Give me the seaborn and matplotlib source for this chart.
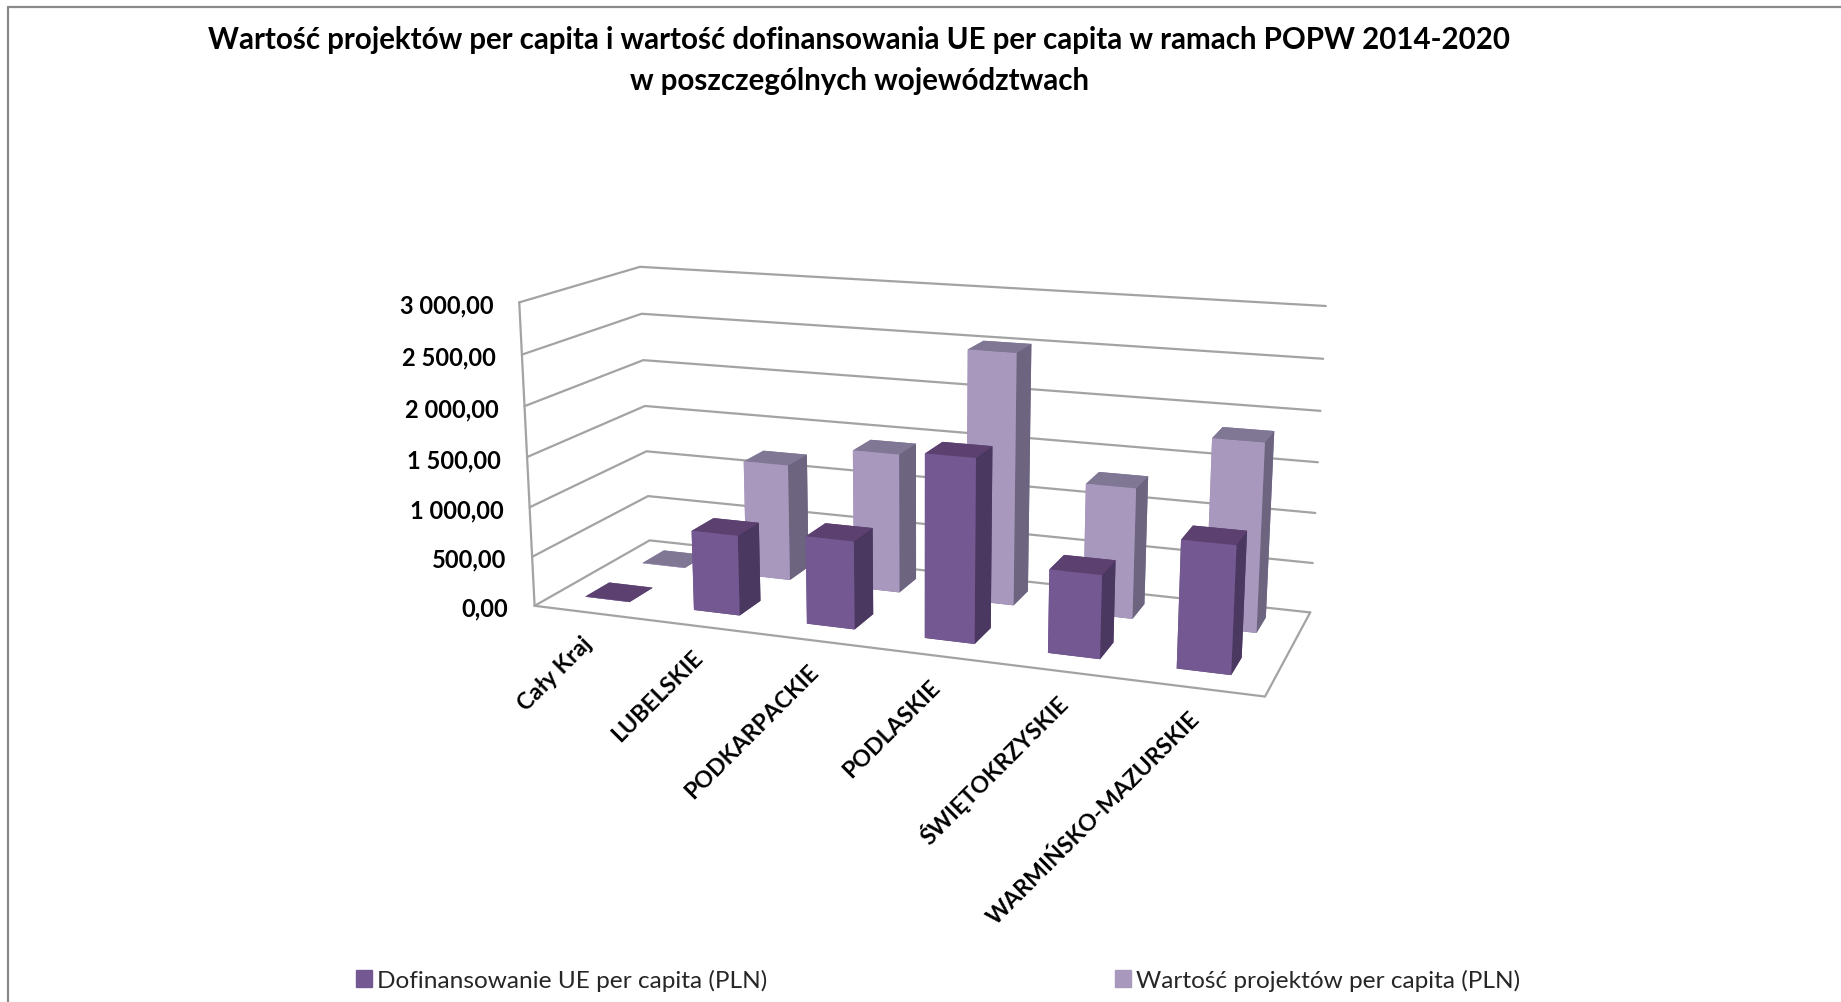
import numpy as np, matplotlib
matplotlib.use('Agg')
import matplotlib.pyplot as plt
from matplotlib.patches import Patch
from matplotlib.lines import Line2D
from mpl_toolkits.mplot3d import proj3d
import seaborn as sns

categories = ['Cały Kraj', 'LUBELSKIE', 'PODKARPACKIE', 'PODLASKIE', 'ŚWIĘTOKRZYSKIE', 'WARMIŃSKO-MAZURSKIE']
dofinansowanie = [5, 800, 865, 1770, 795, 1195]
wartosc = [5, 1205, 1420, 2515, 1295, 1840]
z_ticks = [0, 500, 1000, 1500, 2000, 2500, 3000]
z_labels = ['0,00', '500,00', '1 000,00', '1 500,00', '2 000,00', '2 500,00', '3 000,00']
series_names = ['Dofinansowanie UE per capita (PLN)', 'Wartość projektów per capita (PLN)']
title_lines = 'Wartość projektów per capita i wartość dofinansowania UE per capita w ramach POPW 2014-2020\nw poszczególnych województwach'

sns.set_theme(style='white')
plt.rcParams['font.family'] = ['Lato', 'DejaVu Sans']
W, H = 1841, 1003
GRID = '#a3a3a3'
dark = ['#5c4170', '#5c4170', '#735891', '#5c4170', '#735891', '#4a3860']
light = ['#7f7794', '#7f7794', '#a898bd', '#7f7794', '#a898bd', '#6d6480']

fig = plt.figure(figsize=(W/100, H/100), dpi=100, facecolor='white')
S, TX, TY = 4466.8, 920.41, 460.635
L = S*0.185
ax = fig.add_axes([(TX-0.095*S)/W, 1-(TY+0.095*S)/H, L/W, L/H], projection='3d')
ax.set_xlim(0, 6, view_margin=0); ax.set_ylim(0, 1, view_margin=0); ax.set_zlim(0, 3000, view_margin=0)
ax.view_init(14.127, -69.942, 0)
ax.set_proj_type('persp', focal_length=0.438)
ax.set_box_aspect((1, 0.335, 0.419))
ax.set_axis_off()
ax.computed_zorder = False
ax.patch.set_alpha(0)

kw = dict(color=GRID, lw=1.6, clip_on=False, zorder=1, solid_capstyle='round')
for z in z_ticks:
    ax.plot([0, 0, 6], [0, 1, 1], [z, z, z], **kw)
ax.plot([0, 0], [0, 0], [0, 3000], **kw)
ax.plot([0, 6, 6], [0, 0, 1], [0, 0, 0], **kw)

n = len(categories)
xs = np.arange(n)
bw = 0.41
ax.bar3d(xs+0.275, np.full(n, 0.675), np.zeros(n), bw, 0.2, wartosc, color=light*n, shade=False, zorder=2, linewidth=0)
ax.bar3d(xs+0.275, np.full(n, 0.175), np.zeros(n), bw, 0.2, dofinansowanie, color=dark*n, shade=False, zorder=3, linewidth=0)

M = ax.get_proj()
def label(x, y, z, text, off, **k):
    px, py, _ = proj3d.proj_transform(x, y, z, M)
    ax.annotate(text, xy=(px, py), xycoords='data', xytext=off, textcoords='offset pixels',
                fontweight='bold', color='black', annotation_clip=False, **k)
for z, t in zip(z_ticks, z_labels):
    label(0, 0, z, t, (-26, -2.5), ha='right', va='center', fontsize=17)
for i, c in enumerate(categories):
    label(i+0.5, 0, 0, c, (0, -27), ha='right', va='center', rotation=45, rotation_mode='anchor', fontsize=16.7)

fig.text(859/W, 1-60.5/H, title_lines, ha='center', va='center', fontsize=21.25, fontweight='bold', color='black', linespacing=1.58)

fig.add_artist(Line2D([8/W, 1], [1-8/H]*2, color='#8a8a8a', lw=1.6))
fig.add_artist(Line2D([8/W, 8/W], [0, 1-8/H], color='#8a8a8a', lw=1.6))

handles = [Patch(color='#735891'), Patch(color='#a898bd')]
fig.legend(handles, series_names, loc='center left', bbox_to_anchor=(356/W, 1-981/H), ncol=2, frameon=False,
           fontsize=17.56, handlelength=0.65, handleheight=0.65, handletextpad=0.2, columnspacing=14.27, borderaxespad=0, borderpad=0)
fig.savefig('out.png', dpi=100)
